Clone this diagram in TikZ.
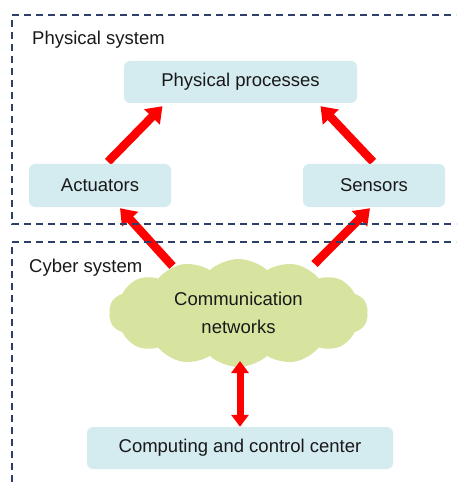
\documentclass[tikz,border=0pt]{standalone}
\usepackage{fontspec}
\setmainfont{Liberation Sans}
\usetikzlibrary{arrows.meta,shapes.symbols,backgrounds}
\definecolor{boxfill}{RGB}{212,235,240}
\definecolor{cloudfill}{RGB}{215,228,160}
\definecolor{dashcol}{RGB}{45,62,105}
\definecolor{arrred}{RGB}{255,0,0}
\definecolor{txt}{RGB}{25,25,25}
\tikzset{
  procbox/.style={rectangle, rounded corners=6pt, fill=boxfill, draw=none, inner sep=0pt, text=txt},
  region/.style={draw=dashcol, line width=1.6pt, dash pattern=on 7pt off 5pt},
  flow/.style={draw=arrred, line width=8.5pt, -{Triangle[width=21pt,length=15pt]}},
  flowboth/.style={draw=arrred, line width=7pt, {Triangle[width=17pt,length=12pt]}-{Triangle[width=17pt,length=12pt]}},
  lbl/.style={anchor=west, inner sep=0pt, text=txt},
}
\begin{document}
\begin{tikzpicture}[x=1pt,y=-1pt, font=\fontsize{18.5}{22}\selectfont]
\useasboundingbox (0,0) rectangle (456,486);
\clip (0,0) rectangle (456,486);
% regions
\draw[region] (475,15) -- (12,15) -- (12,224) -- (475,224);
\draw[region] (475,242) -- (12,242) -- (12,500);
\node[lbl] (physlbl) at (32,40) {Physical system};
\node[lbl] (cyberlbl) at (29,268) {Cyber system};
% nodes
\node[procbox, minimum width=233pt, minimum height=42pt] (pp) at (240.5,82) {Physical processes};
\node[procbox, minimum width=142pt, minimum height=43pt] (act) at (100,185.5) {Actuators};
\node[procbox, minimum width=142pt, minimum height=43pt] (sens) at (374,185.5) {Sensors};
\node[cloud, cloud puffs=14, cloud puff arc=85, aspect=2.5, fill=cloudfill, draw=none,
      minimum width=259pt, minimum height=108pt, inner sep=0pt, text=txt, align=center] (net) at (238.5,313)
      {Communication\\[6pt]networks};
\node[procbox, minimum width=306pt, minimum height=42pt] (ccc) at (240,448) {Computing and control center};
% arrows
\begin{scope}[on background layer]
\draw[flow] ([shift={(8,-2)}]act.north) -- ([shift={(-78,3)}]pp.south);
\draw[flow] ([shift={(-1,-2)}]sens.north) -- ([shift={(80,3)}]pp.south);
\draw[flow] ([shift={(-66,-47)}]net.center) -- ([shift={(20,1)}]act.south);
\draw[flow] ([shift={(76,-49)}]net.center) -- ([shift={(-4,1)}]sens.south);
\end{scope}
\draw[flowboth] ([shift={(1.5,48)}]net.center) -- (ccc.north);
\end{tikzpicture}
\end{document}
